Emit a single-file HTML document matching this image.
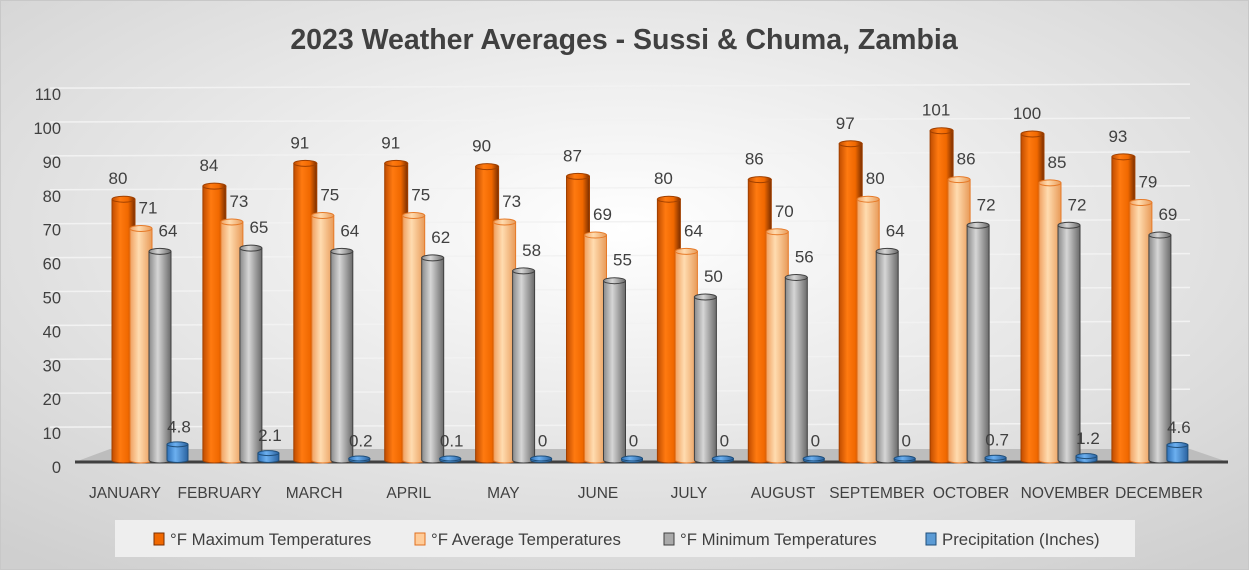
<!DOCTYPE html>
<html><head><meta charset="utf-8"><style>
body{margin:0;width:1249px;height:570px;overflow:hidden;font-family:"Liberation Sans",sans-serif}
</style></head><body>
<svg width="1249" height="570" xmlns="http://www.w3.org/2000/svg" font-family="Liberation Sans, sans-serif">
<defs>
<radialGradient id="bg" cx="50%" cy="40%" r="75%"><stop offset="0" stop-color="#ffffff"/><stop offset="1" stop-color="#cfcfcf"/></radialGradient>
<linearGradient id="gMax" x1="0" x2="1"><stop offset="0" stop-color="#c04c00"/><stop offset="0.35" stop-color="#ff7a10"/><stop offset="0.7" stop-color="#f06800"/><stop offset="1" stop-color="#7a2e00"/></linearGradient>
<linearGradient id="gAvg" x1="0" x2="1"><stop offset="0" stop-color="#f0a060"/><stop offset="0.4" stop-color="#ffdcb0"/><stop offset="1" stop-color="#e89a58"/></linearGradient>
<linearGradient id="gMin" x1="0" x2="1"><stop offset="0" stop-color="#8a8a8a"/><stop offset="0.4" stop-color="#d6d6d6"/><stop offset="1" stop-color="#6a6a6a"/></linearGradient>
<linearGradient id="gPre" x1="0" x2="1"><stop offset="0" stop-color="#2d70b8"/><stop offset="0.4" stop-color="#6cb0f0"/><stop offset="1" stop-color="#2a62a0"/></linearGradient>
</defs>
<rect width="1249" height="570" fill="url(#bg)"/>
<rect x="0.5" y="0.5" width="1248" height="569" fill="none" stroke="#c8c8c8"/>
<text x="624" y="49" text-anchor="middle" font-size="28.5" font-weight="bold" fill="#404040">2023 Weather Averages - Sussi &amp; Chuma, Zambia</text>
<g id="grid" stroke="#f2f2f2" stroke-width="1.5"></g>
<g id="yl" font-size="16.5" fill="#404040" text-anchor="end"></g>
<polygon points="75,462 110,449 1190,449 1228,462" fill="#bdbdbd"/>
<line x1="75" y1="462" x2="1228" y2="462" stroke="#404040" stroke-width="3"/>
<g id="bars"></g>
<g id="xl" font-size="15.5" fill="#404040" text-anchor="middle"></g>
<rect x="115" y="520" width="1020" height="37" fill="#eeeeee"/>
<g font-size="16.8" fill="#404040">
<rect x="154" y="533" width="10" height="12" fill="#f06800" stroke="#7a2e00"/><text x="170" y="545">°F Maximum Temperatures</text>
<rect x="415" y="533" width="10" height="12" fill="#ffcc99" stroke="#e07020"/><text x="431" y="545">°F Average Temperatures</text>
<rect x="664" y="533" width="10" height="12" fill="#aaaaaa" stroke="#404040"/><text x="680" y="545">°F Minimum Temperatures</text>
<rect x="926" y="533" width="10" height="12" fill="#5b9bd5" stroke="#1f4e79"/><text x="942" y="545">Precipitation (Inches)</text>
</g>
</svg>
<script>
const ns="http://www.w3.org/2000/svg";
function el(p,t,a,txt){const e=document.createElementNS(ns,t);for(const k in a)e.setAttribute(k,a[k]);if(txt!==undefined)e.textContent=txt;document.getElementById(p).appendChild(e);}
for(let i=0;i<=11;i++){const v=i*10;const y=467-v*3.39;el('yl','text',{x:61,y:y+6},String(v));if(i>0)el('grid','line',{x1:50,y1:y-6,x2:1190,y2:y-10});}
const mx=[80,84,91,91,90,87,80,86,97,101,100,93],av=[71,73,75,75,73,69,64,70,80,86,85,79],mn=[64,65,64,62,58,55,50,56,64,72,72,69],pr=[4.8,2.1,0.2,0.1,0,0,0,0,0,0.7,1.2,4.6];
const months=["JANUARY","FEBRUARY","MARCH","APRIL","MAY","JUNE","JULY","AUGUST","SEPTEMBER","OCTOBER","NOVEMBER","DECEMBER"];
const base=460,s=3.26;
function cyl(x,w,v,fill,stroke,ry){const top=base-Math.max(v*s,1.5);const rx=w/2;
el('bars','path',{d:`M${x},${top} L${x},${base} A${rx},${ry} 0 0 0 ${x+w},${base} L${x+w},${top} Z`,fill:fill,stroke:stroke,'stroke-width':1});
el('bars','ellipse',{cx:x+rx,cy:top,rx:rx,ry:ry,fill:fill,stroke:stroke,'stroke-width':1});return top;}
for(let i=0;i<12;i++){const x0=112+i*90.9;
let t=cyl(x0,23,mx[i],'url(#gMax)','#a04000',3);el('bars','text',{x:x0+6,y:t-15,'font-size':17,fill:'#404040','text-anchor':'middle'},mx[i]);
t=cyl(x0+18,22,av[i],'url(#gAvg)','#e67a28',3);el('bars','text',{x:x0+36,y:t-15,'font-size':17,fill:'#404040','text-anchor':'middle'},av[i]);
t=cyl(x0+37,22,mn[i],'url(#gMin)','#404040',3);el('bars','text',{x:x0+56,y:t-15,'font-size':17,fill:'#404040','text-anchor':'middle'},mn[i]);
t=cyl(x0+55,21,pr[i],'url(#gPre)','#1f4e79',2.5);el('bars','text',{x:x0+67,y:t-12,'font-size':17,fill:'#404040','text-anchor':'middle'},pr[i]);
el('xl','text',{x:125+i*94.6-(i>5?i*0.6:0),y:498},months[i]);}
</script>
</body></html>
